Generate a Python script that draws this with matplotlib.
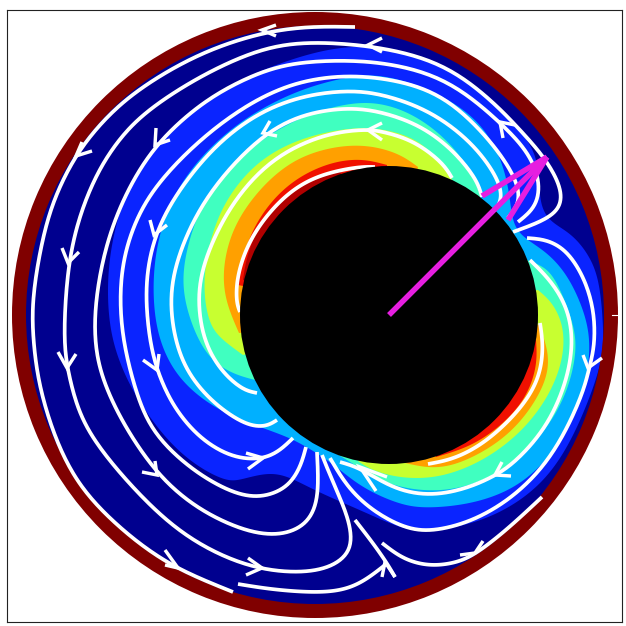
import numpy as np
import matplotlib
matplotlib.use("Agg")
import matplotlib.pyplot as plt
from matplotlib.patches import Circle, Polygon, Wedge

ring_center = (315, 315)
ring_outer, ring_inner = 303, 289
body_center = (389, 315)
body_radius = 149
vector_end = (547, 157)
vector_barbs = [(482, 196), (508, 220)]

band_blue = [(380,44),(450,64),(497,102),(520,130),(537,153),(539,180),(540,207),(550,223),(573,233),(593,260),(600,285),(603,320),(604,350),
             (597,380),(573,440),(547,480),(513,507),(473,525),(423,533),(400,528),(373,516),(353,507),(313,490),(287,475),(267,472),(240,480),(227,483),
             (190,463),(160,433),(133,393),(118,360),(108,325),(106,267),(120,200),(150,145),(198,103),(243,78),(287,60),(333,47)]
band_sky = [(380,73),(430,88),(480,117),(503,160),(510,195),(512,225),(523,238),(548,252),(568,275),(582,305),(591,335),(589,373),(574,420),(554,453),(520,488),
            (473,505),(423,509),(400,505),(360,488),(333,463),(307,447),(287,436),(250,424),(213,408),(183,384),(165,357),(153,320),(152,260),(167,203),(198,157),(243,117),(300,88),(350,76)]
band_aqua_left = [(255,380),(235,375),(213,363),(197,340),(183,300),(182,267),(193,225),(208,192),(243,150),(300,115),(350,102),(380,102),(413,113),(447,138),(473,172),(481,198)]
band_aqua_right = [(527,260),(547,267),(558,283),(574,323),(578,350),(568,393),(548,428),(521,458),(480,485),(433,494),(383,485),(353,463),(335,453)]
band_lime_left = [(243,355),(222,340),(210,327),(204,300),(204,270),(211,235),(225,199),(256,160),(300,137),(350,127),(380,128),(413,136),(437,156),(452,179)]
band_lime_right = [(538,290),(553,302),(565,327),(564,360),(549,398),(521,434),(483,462),(440,479),(400,479),(370,470),(358,461)]
band_orange_left = [(239,333),(224,300),(222,267),(232,226),(259,188),(293,158),(333,146),(367,144),(400,153),(418,167)]
band_orange_right = [(539,325),(550,353),(548,380),(527,416),(499,444),(457,466),(430,469),(405,463)]
band_red_left = [(238,285),(246,237),(272,198),(300,175),(333,161),(363,158),(387,165)]
band_red_right = [(536,340),(538,363),(529,394),(508,421),(473,447),(436,457)]
band_maroon_left = [(243,280),(246,257),(259,222),(286,196),(313,179),(340,171)]

stream_1 = [(355,27),(315,26),(268,30),(200,51),(135,90),(103,120),(76,153),(55,195),(43,233),(31,300),(33,340),(38,385),(55,440),(75,480),(100,510),(137,543),(177,570),(233,592)]
stream_2 = [(513,232),(547,220),(562,207),(562,187),(545,157),(520,130),(497,105),(447,62),(380,46),(315,41),(265,45),(200,75),(143,112),(118,140),(98,170),(80,212),(67,263),(63,340),(67,368),(78,415),(100,450),(136,492),(183,538),(247,569),(300,574),(333,568),(355,550),(349,517),(333,483),(322,455)]
stream_3 = [(518,222),(538,207),(541,180),(528,150),(500,122),(447,75),(380,61),(333,60),(280,63),(233,84),(198,105),(153,145),(124,195),(105,245),(95,300),(94,340),(100,375),(120,420),(157,477),(200,512),(250,534),(283,536),(308,525),(320,500),(317,452)]
stream_4 = [(508,218),(521,203),(518,180),(493,142),(447,95),(400,80),(350,74),(300,80),(257,98),(213,128),(173,165),(142,203),(124,250),(119,293),(122,340),(135,390),(150,433),(193,472),(233,494),(260,499),(288,489),(301,467),(306,447)]
stream_5 = [(497,208),(503,197),(498,177),(473,142),(430,109),(380,93),(350,90),(307,94),(260,110),(213,145),(172,198),(152,240),(144,287),(149,340),(157,372),(173,408),(200,440),(233,459),(263,460),(280,451),(293,438)]
stream_6 = [(482,197),(478,180),(453,149),(420,124),(380,111),(350,107),(307,112),(263,131),(207,191),(180,247),(168,293),(174,340),(187,374),(213,404),(247,427),(267,427),(277,420)]
stream_7 = [(452,178),(444,163),(413,139),(380,131),(368,129),(327,132),(273,155),(232,200),(206,253),(196,293),(202,340),(220,371),(243,391),(257,393)]
stream_8 = [(375,167),(360,166),(313,175),(280,198),(249,237),(236,277),(236,303),(240,312)]
stream_9 = [(527,238),(547,239),(568,250),(586,280),(595,313),(595,347),(589,368),(584,393),(554,458),(514,498),(473,522),(433,532),(407,530),(373,512),(347,488),(330,458)]
stream_10 = [(530,260),(551,280),(568,307),(574,340),(568,380),(548,428),(514,464),(495,476),(467,489),(430,497),(393,490),(360,467),(340,462)]
stream_11 = [(540,323),(544,347),(540,380),(520,411),(485,444),(453,460),(428,464)]
stream_12 = [(238,584),(273,590),(327,594),(358,587),(385,565)]
stream_13 = [(355,520),(373,543),(387,563),(395,577)]
stream_14 = [(382,543),(403,560),(430,567),(457,563),(475,555),(507,530),(542,497)]
streams = [stream_1, stream_2, stream_3, stream_4, stream_5, stream_6, stream_7, stream_8,
           stream_9, stream_10, stream_11, stream_12, stream_13, stream_14]

# tip, barb, barb
arrowheads = [
    [(262,30),(276,25),(276,36)], [(76,156),(92,151),(82,142)], [(68,263),(62,248),(79,252)],
    [(155,145),(156,128),(170,140)], [(154,235),(150,220),(167,225)], [(263,133),(270,121),(277,136)],
    [(368,130),(382,123),(382,140)], [(368,45),(382,38),(382,52)], [(500,122),(515,125),(503,138)],
    [(67,368),(58,352),(76,354)], [(157,370),(143,360),(159,354)], [(157,475),(142,472),(155,461)],
    [(263,458),(246,453),(248,469)], [(262,568),(248,558),(246,575)], [(178,568),(165,550),(165,565)],
    [(385,562),(395,577),(382,577)], [(360,467),(376,491),(387,477)], [(495,475),(511,476),(502,462)],
    [(588,368),(583,355),(602,358)], [(475,553),(483,541),(460,555)],
]

NAVY, BLUE, SKY, AQUA, LIME, ORANGE, RED, MAROON, RING = (
    "#00008f", "#0a24ff", "#00b0ff", "#40ffc0", "#c8ff30", "#ffa000", "#f01000", "#b00000", "#800000")
PX = 0.72


def smooth(points, closed=False, sigma=0.5, n=16):
    """Trace a soft curve through hand-read points (reading noise is removed)."""
    p = np.asarray(points, float)
    m = len(p)
    if closed:
        pad = np.vstack([p, p, p])
    else:
        pad = np.vstack([2 * p[0] - p[1:][::-1], p, 2 * p[-1] - p[:-1][::-1]])
    t = np.arange(len(pad))
    tt = np.arange(0, len(pad) - 1 + 1e-9, 1 / n)
    dense = np.column_stack([np.interp(tt, t, pad[:, 0]), np.interp(tt, t, pad[:, 1])])
    half = int(4 * sigma * n)
    kernel = np.exp(-0.5 * (np.arange(-half, half + 1) / (sigma * n)) ** 2)
    kernel /= kernel.sum()
    out = np.column_stack([np.convolve(dense[:, i], kernel, mode="same") for i in (0, 1)])
    start = (m if closed else m - 1) * n
    stop = start + (m if closed else m - 1) * n + 1
    return out[start:stop]


def band(points, color, close_through=None, closed=False):
    xy = smooth(points, closed)
    if close_through is not None:
        xy = np.vstack([xy, close_through])
    ax.add_patch(Polygon(xy, closed=True, facecolor=color, edgecolor="none", zorder=2))


fig = plt.figure(figsize=(6.26, 6.26), dpi=100)
ax = fig.add_axes([7 / 626, 4 / 626, 615 / 626, 612 / 626])
ax.set_xlim(7, 622)
ax.set_ylim(622, 10)
ax.set_xticks([])
ax.set_yticks([])
for s in ax.spines.values():
    s.set_linewidth(0.8)
    s.set_color("#222222")

ax.add_patch(Circle(ring_center, ring_inner + 1, facecolor=NAVY, edgecolor="none", zorder=1))
band(band_blue, BLUE, closed=True)
band(band_sky, SKY, closed=True)
for pts in (band_aqua_left, band_aqua_right):
    band(pts, AQUA, body_center)
for pts in (band_lime_left, band_lime_right):
    band(pts, LIME, body_center)
for pts in (band_orange_left, band_orange_right):
    band(pts, ORANGE, body_center)
for pts in (band_red_left, band_red_right):
    band(pts, RED, body_center)
band(band_maroon_left, MAROON, body_center)

ax.add_patch(Wedge(ring_center, ring_outer, 0, 360, width=ring_outer - ring_inner,
                   facecolor=RING, edgecolor="none", zorder=3))

for st in streams:
    xy = smooth(st)
    ax.plot(xy[:, 0], xy[:, 1], color="white", lw=3.7 * PX, solid_capstyle="butt",
            solid_joinstyle="round", zorder=4)
for tip, a, b in arrowheads:
    ax.plot([a[0], tip[0], b[0]], [a[1], tip[1], b[1]], color="white", lw=3.4 * PX,
            solid_joinstyle="miter", solid_capstyle="butt", zorder=4)
ax.plot([612, 620], [315, 315], color="white", lw=0.8, zorder=4)

ax.add_patch(Circle(body_center, body_radius, facecolor="black", edgecolor="none", zorder=5))

MAGENTA = "#e61ee0"
ax.plot([body_center[0], vector_end[0]], [body_center[1], vector_end[1]], color=MAGENTA,
        lw=5.5 * PX, solid_capstyle="butt", zorder=6)
for b in vector_barbs:
    ax.plot([b[0], vector_end[0]], [b[1], vector_end[1]], color=MAGENTA, lw=5.5 * PX,
            solid_capstyle="butt", zorder=6)

fig.savefig("out.png", dpi=100)
